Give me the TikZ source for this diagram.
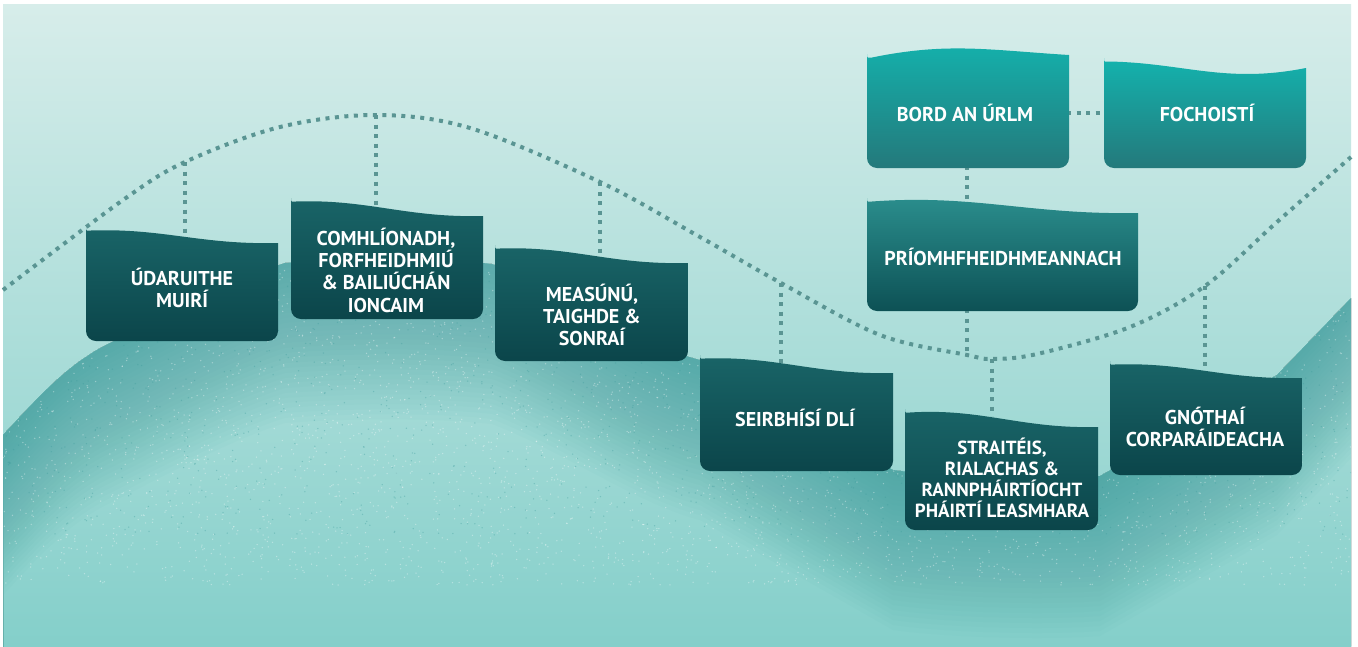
\documentclass[tikz,border=0pt]{standalone}
\usepackage{fontspec}
\setmainfont{PT Sans}
\definecolor{bgtop}{HTML}{D7EDEA}
\definecolor{bgmid}{HTML}{C2E5E1}
\definecolor{bgbot}{HTML}{84CFCA}
\definecolor{mtnc}{HTML}{3A9A9B}
\definecolor{dotc}{HTML}{5A9593}
\definecolor{lowtop}{HTML}{196467}
\definecolor{lowbot}{HTML}{0B454A}
\definecolor{hitop}{HTML}{14B1AC}
\definecolor{hibot}{HTML}{24797B}
\definecolor{midtop}{HTML}{2B8F8E}
\definecolor{midbot}{HTML}{0D5155}
\newcommand\mtn[1]{(3,{435+#1}) .. controls (40,{395+#1}) and (70,{362+#1}) .. (110,{343+#1}) .. controls (160,{318+#1}) and (230,{280+#1}) .. (285,{263+#1}) .. controls (350,{258+#1}) and (440,{258+#1}) .. (492,{264+#1}) .. controls (560,{290+#1}) and (640,{345+#1}) .. (700,{360+#1}) -- (893,{470+#1}) .. controls (950,{478+#1}) and (1050,{480+#1}) .. (1100,{476+#1}) -- (1277,{375+#1}) -- (1351,{298+#1}) -- (1351,900) -- (3,900) -- cycle}
% #1 L, #2 R, #3 yL, #4 yR, #5 B, #6 ctrl1 y, #7 ctrl2 y, #8 style
\newcommand\wbox[8]{%
  \shade[#8] (#2,#4) [rounded corners=10] -- (#2,#5) -- (#1,#5) -- (#1,{#3+6}) [sharp corners]
    .. controls (#1,#3) .. ({#1+5},{#3-0.5})
    .. controls ({#1+0.4*(#2-#1)},#6) and ({#1+0.6*(#2-#1)},#7) .. (#2,#4) -- cycle;}
\tikzset{
  dotline/.style={draw=dotc, line width=4, dash pattern=on 4 off 5.5},
  lowbox/.style={top color=lowtop, bottom color=lowbot},
  hibox/.style={top color=hitop, bottom color=hibot},
  midbox/.style={top color=midtop, bottom color=midbot},
  boxtext/.style={text=white, align=center, font=\bfseries\fontsize{20}{22.3}\selectfont, inner sep=0},
}
\begin{document}
\begin{tikzpicture}[x=1pt,y=-1pt]
\useasboundingbox (0,0) rectangle (1358,646);
\fill[white] (0,0) rectangle (1358,646);
\shade[top color=bgtop, middle color=bgmid, bottom color=bgbot] (3,4) rectangle (1351,646);
% mountain
\begin{scope}
\clip (3,4) rectangle (1351,646);
\foreach \k in {5,10,...,160} {
  \fill[mtnc, opacity=0.03, even odd rule] \mtn{0} \mtn{\k};
}
\clip \mtn{0};
\pgfmathsetseed{7}
\foreach \i in {1,...,4500} {
  \pgfmathsetmacro\rx{3+1348*rnd}
  \pgfmathsetmacro\ry{255+330*rnd}
  \fill[white, opacity=0.35] (\rx,\ry) circle[radius=0.75];
}
\foreach \i in {1,...,1500} {
  \pgfmathsetmacro\rx{3+1348*rnd}
  \pgfmathsetmacro\ry{255+280*rnd}
  \fill[mtnc, opacity=0.35] (\rx,\ry) circle[radius=0.75];
}
\end{scope}
% dotted curve
\draw[dotline] plot[smooth, tension=0.55] coordinates {(3,290) (123,200) (185,162) (280,127) (376,115) (470,128) (600,182) (700,237) (781,283) (880,335) (967,355) (992,359) (1037,354) (1130,327) (1205,286) (1277,222) (1351,157)};
\coordinate (c1) at (185,162);
\coordinate (c2) at (376,115);
\coordinate (c3) at (600,182);
\coordinate (c4) at (781,283);
\coordinate (c5) at (967,355);
\coordinate (c6) at (992,359);
\coordinate (c7) at (1205,286);
\coordinate (t1) at (185,236);
\coordinate (t2) at (376,207);
\coordinate (t3) at (600,257);
\coordinate (t4) at (781,364);
\coordinate (t6) at (992,416);
\coordinate (t7) at (1205,372);
\coordinate (bordb) at (967,166);
\coordinate (priot) at (967,203);
\coordinate (priob) at (967,309);
\coordinate (bordr) at (1067,113);
\coordinate (fochl) at (1106,113);
\draw[dotline] (c1) -- (t1);
\draw[dotline] (c2) -- (t2);
\draw[dotline] (c3) -- (t3);
\draw[dotline] (c4) -- (t4);
\draw[dotline] (priob) -- (c5);
\draw[dotline] (c6) -- (t6);
\draw[dotline] (c7) -- (t7);
\draw[dotline] (bordb) -- (priot);
\draw[dotline] (bordr) -- (fochl);
% boxes
\wbox{86}{278}{231}{243}{341}{228}{245}{lowbox}
\wbox{291}{483}{202}{216}{319}{199}{218}{lowbox}
\wbox{495}{688}{249}{263}{361}{246}{265}{lowbox}
\wbox{700}{893}{359}{373}{471}{356}{375}{lowbox}
\wbox{905}{1098}{413}{427}{530}{408}{429}{lowbox}
\wbox{1110}{1302}{365}{378}{475}{362}{380}{lowbox}
\wbox{867}{1069}{58}{55}{168}{42}{50}{hibox}
\wbox{1104}{1306}{62}{68}{168}{63}{84}{hibox}
\wbox{867}{1138}{202}{213}{311}{194}{215}{midbox}
% texts
\node[boxtext] (n1) at (182,288) {ÚDARUITHE\\MUIRÍ};
\node[boxtext] (n2) at (386,270) {COMHLÍONADH,\\FORFHEIDHMIÚ\\\& BAILIÚCHÁN\\IONCAIM};
\node[boxtext] (n3) at (592,315) {MEASÚNÚ,\\TAIGHDE \&\\SONRAÍ};
\node[boxtext] (n4) at (795,418) {SEIRBHÍSÍ DLÍ};
\node[boxtext, font=\bfseries\fontsize{19}{20.8}\selectfont] (n5) at (1002,478) {STRAITÉIS,\\RIALACHAS \&\\RANNPHÁIRTÍOCHT\\PHÁIRTÍ LEASMHARA};
\node[boxtext] (n6) at (1205,427) {GNÓTHAÍ\\CORPARÁIDEACHA};
\node[boxtext] (n7) at (965,113) {BORD AN ÚRLM};
\node[boxtext] (n8) at (1207,113) {FOCHOISTÍ};
\node[boxtext] (n9) at (1003,257) {PRÍOMHFHEIDHMEANNACH};
\end{tikzpicture}
\end{document}
